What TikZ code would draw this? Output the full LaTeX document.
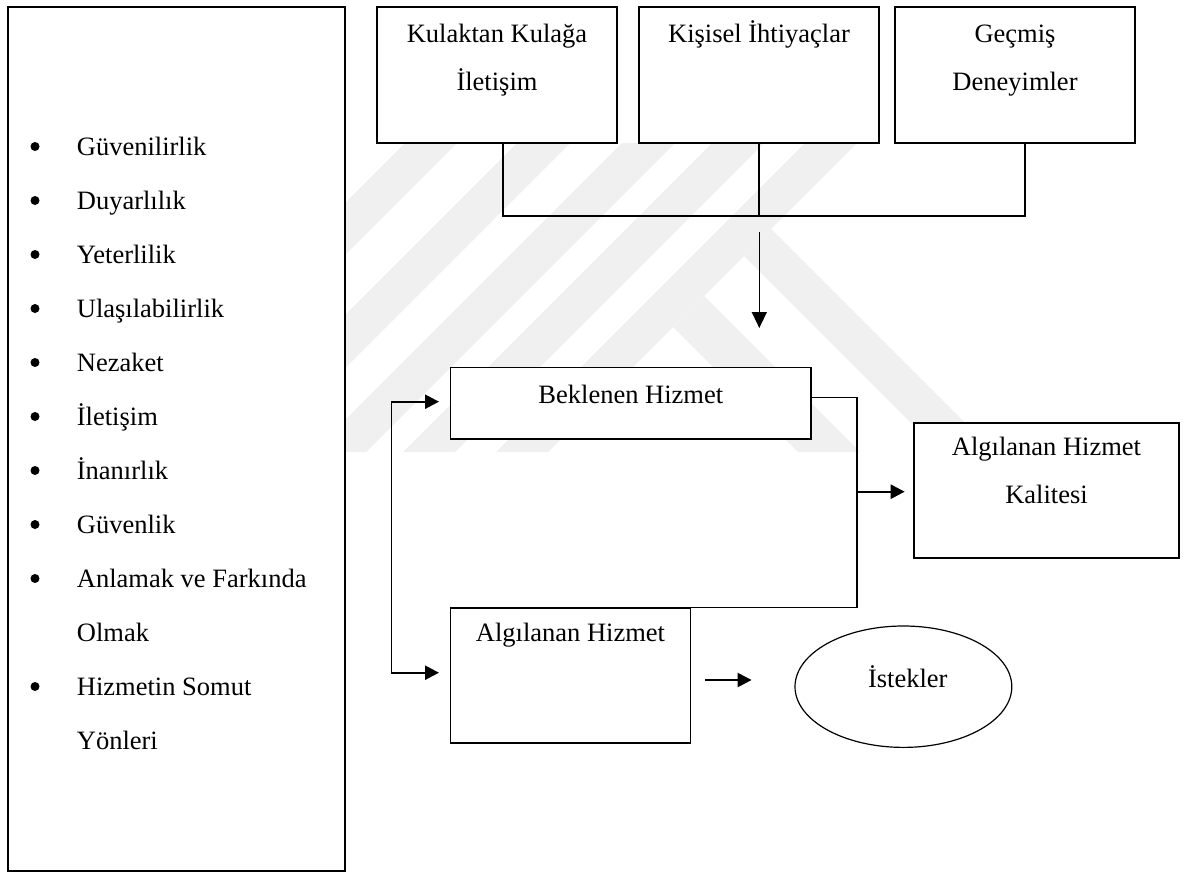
\documentclass[tikz,border=0pt]{standalone}
\usepackage{fontspec}
\setmainfont{Liberation Serif}
\usetikzlibrary{arrows.meta,shapes.geometric}
\definecolor{wm}{HTML}{F0F0F0}
\begin{document}
\begin{tikzpicture}[x=1pt,y=-1pt,
  font=\fontsize{26.5}{32}\selectfont,
  box/.style={draw, line width=1.6pt, fill=white, inner sep=0pt},
  lbl/.style={anchor=base, inner sep=0pt},
  item/.style={anchor=base west, inner sep=0pt},
  bul/.style={circle, fill=black, inner sep=0pt, minimum size=9pt},
  conn/.style={line width=1.5pt},
  arr/.style={line width=2.4pt, -{Triangle[length=14pt,width=14pt]}},
  darr/.style={line width=1.5pt, -{Triangle[length=16pt,width=15pt]}}]
\useasboundingbox (0,0) rectangle (1186,875);
\fill[white] (0,0) rectangle (1186,875);

% faint watermark
\begin{scope}
  \clip (345,143) -- (863,143) -- (1172,452) -- (345,452) -- cycle;
  \foreach \cc/\cw in {548/52,660/53,765/53,855/52,948/52} {
    \fill[wm] (\cc,0) -- (\cc+\cw,0) -- (\cc+\cw-700,700) -- (\cc-700,700) -- cycle;
  }
\end{scope}
\fill[wm] (673,327) -- (704,296) -- (860,452) -- (798,452) -- cycle;
\fill[wm] (744,256) -- (771,229) -- (994,452) -- (940,452) -- cycle;

% left list box
\node[box, minimum width=337pt, minimum height=864pt] (L) at (176.5,439) {};
\node[bul] (u1) at (35,146.5) {};  \node[item] (i1) at (76.7,155) {Güvenilirlik};
\node[bul] (u2) at (35,200.5) {};  \node[item] (i2) at (76.7,209) {Duyarlılık};
\node[bul] (u3) at (35,254.5) {};  \node[item] (i3) at (76.7,263) {Yeterlilik};
\node[bul] (u4) at (35,308.5) {};  \node[item] (i4) at (76.7,317) {Ulaşılabilirlik};
\node[bul] (u5) at (35,362.5) {};  \node[item] (i5) at (76.7,371) {Nezaket};
\node[bul] (u6) at (35,416.5) {};  \node[item] (i6) at (76.7,425) {İletişim};
\node[bul] (u7) at (35,470.5) {};  \node[item] (i7) at (76.7,479) {İnanırlık};
\node[bul] (u8) at (35,524.5) {};  \node[item] (i8) at (76.7,533) {Güvenlik};
\node[bul] (u9) at (35,578.5) {};  \node[item] (i9) at (76.7,587) {Anlamak ve Farkında};
                                   \node[item] (i10) at (76.7,641) {Olmak};
\node[bul] (u11) at (35,686.5) {}; \node[item] (i11) at (76.7,695) {Hizmetin Somut};
                                   \node[item] (i12) at (76.7,749) {Yönleri};

% top boxes
\node[box, minimum width=240pt, minimum height=136pt] (b1) at (497,75) {};
\node[box, minimum width=240pt, minimum height=136pt] (b2) at (759,75) {};
\node[box, minimum width=240pt, minimum height=136pt] (b3) at (1015,75) {};
\node[lbl] (t1a) at (497,42.7) {Kulaktan Kulağa};
\node[lbl] (t1b) at (497,90) {İletişim};
\node[lbl] (t2a) at (759,42.7) {Kişisel İhtiyaçlar};
\node[lbl] (t3a) at (1015,42.7) {Geçmiş};
\node[lbl] (t3b) at (1015,90) {Deneyimler};

% middle boxes
\node[box, minimum width=360.4pt, minimum height=71.5pt] (bek) at (630.8,403.3) {};
\node[lbl] (tbek) at (630.8,403.3) {Beklenen Hizmet};
\node[box, minimum width=265pt, minimum height=135pt] (kal) at (1046.5,490.5) {};
\node[lbl] (tkal1) at (1046.5,455) {Algılanan Hizmet};
\node[lbl] (tkal2) at (1046.5,503.3) {Kalitesi};
\node[box, minimum width=239.8pt, minimum height=135pt] (alg) at (570.5,675.5) {};
\node[lbl] (talg) at (570.5,641.7) {Algılanan Hizmet};
\node[draw, ellipse, line width=1.2pt, fill=white, inner sep=0pt,
      minimum width=216.8pt, minimum height=121.4pt] (ist) at (903.4,686.7) {};
\node[lbl] (tist) at (907.8,687.3) {İstekler};

% top bracket
\coordinate (j1) at (503,216);
\coordinate (j3) at (1024.9,216);
\draw[conn] (j1 |- b1.south) -- (j1) -- (j3) -- (j3 |- b3.south);
\draw[conn] (b2.south) -- (b2.south |- j1);
\coordinate (d0) at (759.3,232);
\coordinate (d1) at (759.3,328);
\draw[darr] (d0) -- (d1);

% right bracket
\coordinate (r1) at (857,397.7);
\coordinate (r2) at (857,607.7);
\coordinate (r3) at (681,607.7);
\draw[conn] (r1 -| bek.east) -- (r1) -- (r2) -- (r3);
\coordinate (k0) at (857,491.7);
\coordinate (k1) at (904.7,491.7);
\draw[arr] (k0) -- (k1);

% left bracket
\coordinate (lb1) at (391.4,401.7);
\coordinate (lb2) at (391.4,672.7);
\coordinate (la1) at (439,401.7);
\coordinate (la2) at (439,672.7);
\draw[conn] (lb1) -- (lb2);
\draw[arr] (lb1) -- (la1);
\draw[arr] (lb2) -- (la2);

% arrow to Istekler
\coordinate (q0) at (705.2,680);
\coordinate (q1) at (751.6,680);
\draw[arr] (q0) -- (q1);
\end{tikzpicture}
\end{document}
